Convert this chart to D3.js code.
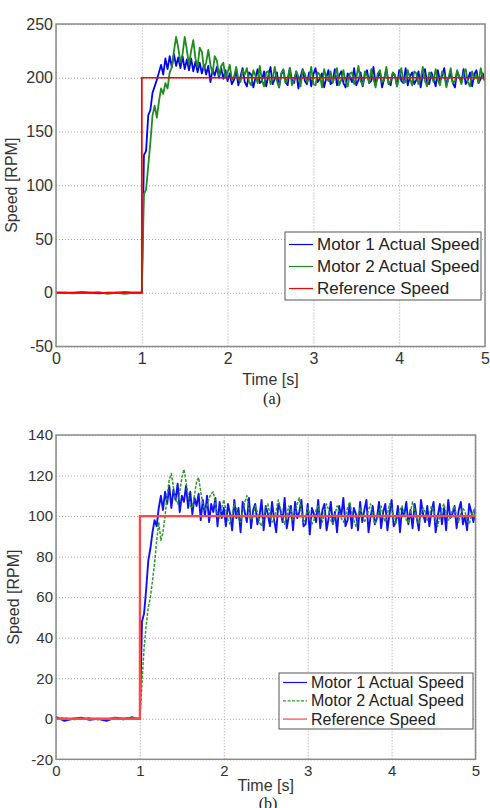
<!DOCTYPE html>
<html>
<head>
<meta charset="utf-8">
<script src="https://cdn.jsdelivr.net/npm/d3@7"></script>
<style>
  body { margin: 0; background: #fff; }
  svg { display: block; font-family: "Liberation Sans", Arial, sans-serif; }
  .grid line { stroke: #a0a0a0; stroke-dasharray: 1,2; }
  .grid .domain { display: none; }
  .grid text { fill: #333; }
</style>
</head>
<body>
<svg id="chart" width="490" height="808"></svg>
<script>
// ---------------- data ----------------
var xTicks = [0, 1, 2, 3, 4, 5];
var yTicksA = [-50, 0, 50, 100, 150, 200, 250];
var yTicksB = [-20, 0, 20, 40, 60, 80, 100, 120, 140];
var seriesNames = ["Motor 1 Actual Speed", "Motor 2 Actual Speed", "Reference Speed"];

// samples before the step (sparse, speed is ~0)
var preTime = [0, 0.1, 0.2, 0.3, 0.4, 0.5, 0.6, 0.7, 0.8, 0.9, 0.975];
// samples after the step start at t = 1 s, every stepDt seconds
var stepStart = 1.0;
var stepDt = 0.025;

// (a) reference 200 rpm
var refA = 200;
var motor1PreA = [0, 0, 0, 0.5, 0, -0.5, 0, 0, 0.5, 0, 0];
var motor2PreA = [0, 0, -0.5, 0, 0, 0.5, -1, 0, -1, 0, 0];
var motor1A = [
  0, 128, 132, 165, 170, 186, 192, 198, 205, 212,
  203, 218, 208, 220, 210, 222, 211, 219, 209, 220,
  208, 217, 207, 218, 206, 215, 205, 214, 204, 212,
  203, 211, 196, 208, 202, 210, 200, 209, 199, 207,
  197,
  204, 194, 198, 207, 193, 201, 209, 196, 192, 205,
  203, 191, 200, 208, 195, 197, 206, 192, 202, 210,
  194, 199, 205, 191, 203, 207, 196, 193, 209, 198,
  195, 206, 190, 201, 208, 197, 194, 205, 192, 203,
  209, 196, 199, 204, 191, 200, 207, 194, 197, 208,
  193, 202, 206, 195, 191, 204, 201, 196, 209, 193,
  198, 205, 192, 203, 207, 195, 197, 210, 194, 200,
  206, 191, 199, 208, 196, 193, 204, 202, 192, 207,
  197, 195, 209, 193, 201, 205, 194, 198, 206, 191,
  203, 208, 196, 194, 205, 199, 192, 207, 197, 202,
  209, 193, 200, 204, 195, 191, 206, 201, 196, 208,
  194, 198, 205, 192, 203, 207, 195, 199, 204, 197
];
var motor2A = [
  0, 92, 96, 118, 140, 165, 174, 163, 178, 190,
  185, 195, 190, 205, 210, 225, 238, 228, 214, 222,
  238, 226, 212, 225, 235, 218, 210, 228, 224, 208,
  214, 226, 212, 204, 220, 216, 202, 211, 214, 200,
  205, 212, 198, 201, 210, 199, 196, 207, 203,
  209, 196, 193, 207, 202, 195, 211, 198, 192, 205,
  206, 194, 199, 210, 197, 191, 204, 208, 195, 200,
  209, 193, 198, 206, 201, 192, 207, 204, 196, 199,
  210, 194, 193, 205, 203, 191, 208, 200, 197, 206,
  195, 202, 209, 193, 198, 207, 196, 192, 204, 205,
  194, 200, 211, 197, 193, 206, 202, 195, 208, 199,
  191, 204, 207, 196, 198, 210, 194, 197, 205, 203,
  192, 201, 209, 195, 196, 207, 200, 193, 206, 204,
  194, 199, 210, 197, 192, 205, 202, 196, 208, 198,
  193, 206, 203, 191, 200, 209, 195, 197, 207, 201,
  194, 204, 208, 196, 192, 206, 199, 203, 195, 209,
  200, 197
];

// (b) reference 100 rpm
var refB = 100;
var motor1PreB = [1, -1, 0, 0.5, -0.5, 0, -1, 0.5, 0, 0.5, 0];
var motor2PreB = [0, 0.5, -0.5, 0, 0.5, -0.5, 0, 0.5, -0.5, 1, 0];
var motor1B = [
  0, 48, 52, 64, 78, 84, 92, 98, 95, 104,
  110, 103, 112, 106, 115, 104, 113, 108, 116, 102,
  110, 107, 115, 104, 112, 101, 109, 105, 111, 98,
  108, 100, 110, 97, 106, 102, 109, 95, 107, 99,
  104,
  95, 106, 101, 93, 108, 99, 104, 92, 107, 102,
  97, 109, 94, 103, 106, 96, 100, 108, 93, 105,
  101, 95, 107, 98, 92, 106, 103, 97, 109, 94,
  100, 105, 93, 107, 99, 102, 108, 95, 96, 106,
  91, 104, 101, 97, 108, 94, 103, 106, 93, 99,
  107, 96, 102, 92, 105, 100, 109, 95, 98, 106,
  94, 104, 101, 93, 107, 97, 103, 108, 92, 100,
  105, 96, 99, 107, 94, 102, 106, 93, 101, 108,
  95, 97, 105, 92, 104, 100, 107, 96, 103, 94,
  106, 99, 93, 108, 101, 97, 105, 95, 102, 107,
  92, 100, 106, 96, 104, 93, 108, 99, 101, 105,
  94, 103, 107, 96, 100, 93, 106, 102, 97, 104
];
var motor2B = [
  0, 18, 35, 46, 55, 60, 68, 77, 88, 97,
  88, 92, 100, 110, 118, 121, 114, 108, 106, 112,
  119, 123, 117, 110, 105, 104, 110, 117, 119, 112,
  106, 103, 105, 109, 111, 112, 106, 101, 99, 104,
  108,
  103, 98, 96, 101, 106, 104, 99, 97, 102, 107,
  110, 103, 98, 100, 105, 102, 97, 95, 100, 104,
  106, 101, 97, 99, 103, 108, 104, 99, 96, 100,
  105, 103, 98, 101, 106, 109, 102, 97, 99, 104,
  101, 96, 98, 103, 105, 100, 97, 102, 106, 103,
  98, 96, 101, 105, 102, 99, 97, 100, 104, 107,
  102, 98, 95, 100, 104, 101, 97, 99, 103, 106,
  101, 96, 98, 102, 105, 100, 97, 101, 106, 104,
  99, 96, 100, 103, 105, 101, 98, 97, 102, 107,
  103, 99, 96, 101, 104, 102, 98, 100, 105, 103,
  97, 95, 100, 104, 106, 101, 98, 99, 103, 105,
  100, 97, 101, 104, 102, 98, 96, 100, 103, 99
];

// ---------------- helpers ----------------
var svg = d3.select("#chart");

// plain labels, hyphen minus like the original figure
var plainFormat = d => String(d);

// join sparse pre-step samples with the regularly sampled part
function buildSeries(pre, vals) {
    var pts = preTime.map(function (t, i) { return { t: t, v: pre[i] }; });
    vals.forEach(function (v, i) {
        pts.push({ t: stepStart + i * stepDt, v: v });
    });
    return pts;
}

function refSeries(level) {
    return [{ t: 0, v: 0 }, { t: stepStart, v: 0 }, { t: stepStart, v: level }, { t: 5, v: level }];
}

function drawPanel(p) {
    var width = p.right - p.left;
    var height = p.bottom - p.top;

    var g = svg.append("g")
        .attr("transform", `translate(${p.left}, ${p.top})`);

    var x = d3.scaleLinear().domain([0, 5]).range([0, width]);
    var y = d3.scaleLinear().domain(p.yDomain).range([height, 0]);

    // grid + tick labels
    g.append("g")
        .attr("class", "grid")
        .attr("transform", `translate(0, ${height})`)
        .call(d3.axisBottom(x).tickValues(xTicks).tickFormat(plainFormat)
            .tickSize(-height).tickPadding(6))
        .selectAll("text")
        .attr("font-size", p.tickFont);

    g.append("g")
        .attr("class", "grid")
        .call(d3.axisLeft(y).tickValues(p.yTicks).tickFormat(plainFormat)
            .tickSize(-width).tickPadding(p.yPad))
        .selectAll("text")
        .attr("font-size", p.tickFont);

    g.selectAll(".grid text").attr("font-family", "Liberation Sans, Arial, sans-serif");

    var clipId = "clip" + p.id;
    g.append("clipPath").attr("id", clipId)
        .append("rect").attr("width", width).attr("height", height);

    var line = d3.line()
        .x(d => x(d.t))
        .y(d => y(d.v));

    var plot = g.append("g").attr("clip-path", `url(#${clipId})`);

    plot.append("path")
        .datum(buildSeries(p.m1Pre, p.m1))
        .attr("fill", "none")
        .attr("stroke", p.colors[0])
        .attr("stroke-width", p.widths[0])
        .attr("stroke-linejoin", "round")
        .attr("d", line);

    plot.append("path")
        .datum(buildSeries(p.m2Pre, p.m2))
        .attr("fill", "none")
        .attr("stroke", p.colors[1])
        .attr("stroke-width", p.widths[1])
        .attr("stroke-dasharray", p.m2Dash)
        .attr("stroke-linejoin", "round")
        .attr("d", line);

    plot.append("path")
        .datum(refSeries(p.ref))
        .attr("fill", "none")
        .attr("stroke", p.colors[2])
        .attr("stroke-width", p.widths[2])
        .attr("d", line);

    // axes box
    g.append("rect")
        .attr("width", width)
        .attr("height", height)
        .attr("fill", "none")
        .attr("stroke", "#8a8a8a")
        .attr("stroke-width", 1.5);

    // axis titles
    g.append("text")
        .attr("x", width / 2)
        .attr("y", height + p.xTitleDy)
        .attr("text-anchor", "middle")
        .attr("font-size", 16)
        .attr("fill", "#333")
        .text("Time [s]");

    svg.append("text")
        .attr("transform", `translate(${p.yTitleX}, ${p.top + height / 2}) rotate(-90)`)
        .attr("text-anchor", "middle")
        .attr("font-size", 16)
        .attr("fill", "#333")
        .text("Speed [RPM]");

    svg.append("text")
        .attr("x", p.captionX)
        .attr("y", p.captionY)
        .attr("text-anchor", "middle")
        .attr("font-family", "Liberation Serif, Times New Roman, serif")
        .attr("font-size", 16)
        .attr("fill", "#222")
        .text(p.caption);

    // legend
    var lg = svg.append("g")
        .attr("transform", `translate(${p.legend.x}, ${p.legend.y})`);
    lg.append("rect")
        .attr("width", p.legend.w)
        .attr("height", p.legend.h)
        .attr("fill", "#fff")
        .attr("stroke", "#555")
        .attr("stroke-width", 1);

    seriesNames.forEach(function (name, i) {
        var yy = p.legend.first + i * p.legend.gap;
        lg.append("line")
            .attr("x1", 4).attr("x2", 28)
            .attr("y1", yy).attr("y2", yy)
            .attr("stroke", p.colors[i])
            .attr("stroke-width", 1.2)
            .attr("stroke-dasharray", i === 1 ? p.m2Dash : null);
        lg.append("text")
            .attr("x", 32)
            .attr("y", yy)
            .attr("dy", "0.35em")
            .attr("font-size", p.legend.font)
            .attr("fill", "#222")
            .text(name);
    });
}

// ---------------- panels ----------------
drawPanel({
    id: "A", left: 56, right: 485, top: 24, bottom: 346.5,
    yDomain: [-50, 250], yTicks: yTicksA, tickFont: 16, yPad: 3,
    m1Pre: motor1PreA, m1: motor1A, m2Pre: motor2PreA, m2: motor2A, ref: refA,
    colors: ["#0000ff", "#1e8c1e", "#ff0000"], widths: [1.8, 1.8, 1.7], m2Dash: null,
    xTitleDy: 38, yTitleX: 17, caption: "(a)", captionX: 272, captionY: 404,
    legend: { x: 285, y: 232, w: 196, h: 68, first: 12.5, gap: 22, font: 17 }
});

drawPanel({
    id: "B", left: 56, right: 475.5, top: 435, bottom: 759.3,
    yDomain: [-20, 140], yTicks: yTicksB, tickFont: 15, yPad: 3,
    m1Pre: motor1PreB, m1: motor1B, m2Pre: motor2PreB, m2: motor2B, ref: refB,
    colors: ["#1010ff", "#2a9a2a", "#ff4545"], widths: [1.9, 1.5, 2.3], m2Dash: "3,1.5",
    xTitleDy: 32, yTitleX: 19, caption: "(b)", captionX: 268, captionY: 809,
    legend: { x: 279, y: 673, w: 194, h: 56, first: 9.5, gap: 18.3, font: 16 }
});
</script>
</body>
</html>
